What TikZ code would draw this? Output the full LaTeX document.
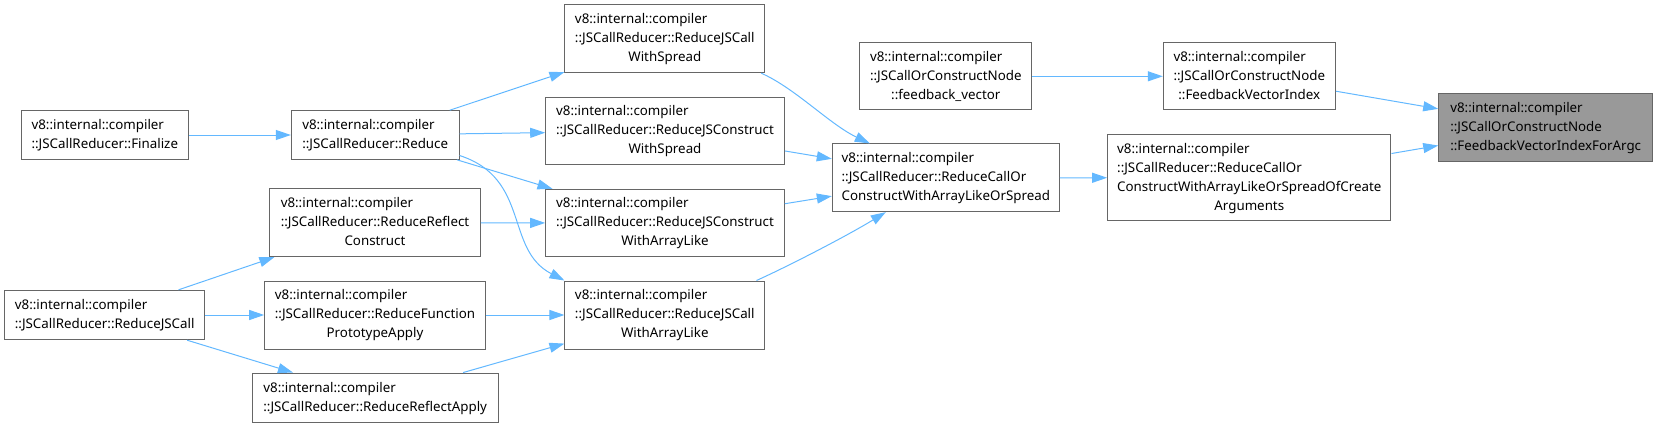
\documentclass[tikz,border=0pt]{standalone}
\usepackage{fontspec}
\setmainfont{Noto Sans}
\usetikzlibrary{arrows.meta,calc}
\definecolor{edgeblue}{HTML}{63B8FF}
\definecolor{boxgray}{HTML}{666666}
\definecolor{fillgray}{HTML}{999999}
\newcommand{\lns}[1]{\begin{tabular}{@{}l@{}}#1\end{tabular}}
\newcommand{\ctr}[1]{\multicolumn{1}{@{}c@{}}{#1}}
\begin{document}
\begin{tikzpicture}[x=0.75pt,y=-0.75pt,
  fn/.style 2 args={draw=boxgray, line width=0.75pt, fill=white, inner sep=0pt,
    minimum width=#1*0.75pt, minimum height=#2*0.75pt,
    font=\fontsize{10}{14.25}\selectfont},
  call/.style={draw=edgeblue, line width=0.75pt, -{Triangle[length=11.25pt,width=7.5pt]}}]
\useasboundingbox (0,0) rectangle (1658,428);

\node[fn={167}{48.6}] (fin) at (104.8,135) {\lns{v8::internal::compiler\\::JSCallReducer::Finalize}};
\node[fn={167.7}{48.6}] (red) at (375.2,135) {\lns{v8::internal::compiler\\::JSCallReducer::Reduce}};
\node[fn={210.6}{67.7}] (rrc) at (375,222.8) {\lns{v8::internal::compiler\\::JSCallReducer::ReduceReflect\\\ctr{Construct}}};
\node[fn={200}{49.4}] (rjs) at (104.7,315) {\lns{v8::internal::compiler\\::JSCallReducer::ReduceJSCall}};
\node[fn={220.6}{68}] (rfpa) at (375,315) {\lns{v8::internal::compiler\\::JSCallReducer::ReduceFunction\\\ctr{PrototypeApply}}};
\node[fn={245.7}{49.3}] (rra) at (375.2,397.7) {\lns{v8::internal::compiler\\::JSCallReducer::ReduceReflectApply}};
\node[fn={199.7}{67.7}] (jcws) at (664.8,38.8) {\lns{v8::internal::compiler\\::JSCallReducer::ReduceJSCall\\\ctr{WithSpread}}};
\node[fn={238.6}{67.4}] (jcows) at (665,131) {\lns{v8::internal::compiler\\::JSCallReducer::ReduceJSConstruct\\\ctr{WithSpread}}};
\node[fn={238.6}{67.4}] (jcowal) at (665,223) {\lns{v8::internal::compiler\\::JSCallReducer::ReduceJSConstruct\\\ctr{WithArrayLike}}};
\node[fn={199.7}{68}] (jcwal) at (664.8,315) {\lns{v8::internal::compiler\\::JSCallReducer::ReduceJSCall\\\ctr{WithArrayLike}}};
\node[fn={227}{67.7}] (rcocs) at (945.8,177.8) {\lns{v8::internal::compiler\\::JSCallReducer::ReduceCallOr\\ConstructWithArrayLikeOrSpread}};
\node[fn={171.7}{67.3}] (fv) at (945.8,76.3) {\lns{v8::internal::compiler\\::JSCallOrConstructNode\\\ctr{::feedback\_vector}}};
\node[fn={172}{67.3}] (fvi) at (1249.3,76.3) {\lns{v8::internal::compiler\\::JSCallOrConstructNode\\\ctr{::FeedbackVectorIndex}}};
\node[fn={283.3}{86}] (oca) at (1249.3,177.7) {\lns{v8::internal::compiler\\::JSCallReducer::ReduceCallOr\\ConstructWithArrayLikeOrSpreadOfCreate\\\ctr{Arguments}}};
\node[fn={214}{68}, fill=fillgray] (gray) at (1545.7,127.3) {\lns{v8::internal::compiler\\::JSCallOrConstructNode\\::FeedbackVectorIndexForArgc}};

\draw[call] (fin) -- (red);
\draw[call] (red) -- (jcws);
\draw[call] (red) -- (jcows);
\draw[call] (red) -- (jcowal);
\draw[call] ($(red.south east)+(0,-4.3)$) .. controls +(71,23) and +(-60,-31) .. (jcwal.north west);
\draw[call] (rrc) -- (jcowal);
\draw[call] (rjs) -- (rrc);
\draw[call] (rjs) -- (rfpa);
\draw[call] (rjs) -- (rra);
\draw[call] (rfpa) -- (jcwal);
\draw[call] (rra) -- (jcwal);
\draw[call] ($(jcws.south east)+(-4,0)$) .. controls +(34,15) and +(-40,-19) .. ($(rcocs.north west)+(38,0)$);
\draw[call] (jcows) -- (rcocs);
\draw[call] (jcowal) -- (rcocs);
\draw[call] ($(jcwal.north east)+(-8.7,0)$) .. controls +(29,-13) and +(-41,25) .. ($(rcocs.south west)+(54,0)$);
\draw[call] (rcocs) -- (oca);
\draw[call] (fv) -- (fvi);
\draw[call] (fvi) -- (gray);
\draw[call] (oca) -- (gray);
\end{tikzpicture}
\end{document}
